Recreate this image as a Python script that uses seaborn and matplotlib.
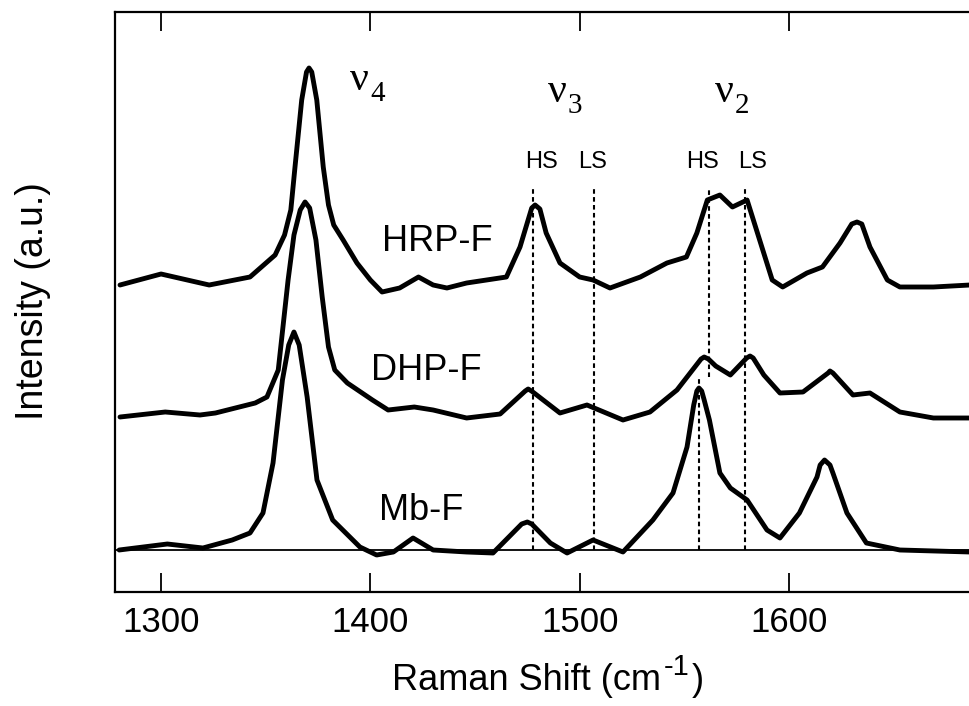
import matplotlib
matplotlib.use("Agg")
import matplotlib.pyplot as plt
import numpy as np
import pandas as pd
import seaborn as sns

# ---------------- data ----------------
hrp_x = [1280.4, 1300, 1323, 1342.5, 1354.5, 1359, 1362, 1364, 1367.2, 1369.5, 1370.7, 1372,
         1374.4, 1377.5, 1380, 1382.5, 1387, 1393.6, 1400, 1405.6, 1414, 1423, 1430, 1436.6,
         1446, 1465, 1471.5, 1477.1, 1478.7, 1481, 1484, 1490.6, 1500, 1506.4, 1514.5, 1529,
         1541.7, 1551, 1556, 1561, 1567, 1573, 1580, 1586, 1592, 1597, 1608.6, 1616, 1624.4,
         1630, 1632.5, 1634.8, 1638.7, 1647, 1653, 1669, 1686.5]
hrp_y = [265, 276, 265, 273, 295, 315, 340, 383, 450, 478, 482, 478,
         450, 383, 345, 325, 310, 287, 270, 258, 262, 273, 265, 262,
         267, 273, 303, 342, 345, 341, 317, 287, 273, 270, 262, 273,
         287, 293, 317, 350, 355, 343, 350, 310, 270, 263, 277, 283, 307,
         326, 328, 326, 303, 270, 263, 263, 265]

dhp_x = [1280.4, 1302, 1318.6, 1326, 1345, 1350.6, 1356, 1360.7, 1363.5, 1366.5, 1368.8, 1371,
         1374, 1377, 1380, 1383, 1389, 1401, 1408.5, 1421, 1430, 1446, 1462, 1474, 1475.4,
         1477, 1490.6, 1503.5, 1520.7, 1533.6, 1546.5, 1558, 1559.5, 1561.5, 1565, 1572,
         1579.8, 1581.4, 1582.9, 1588, 1595.7, 1606.7, 1618.7, 1619.6, 1621, 1630.6, 1638.7,
         1653, 1669, 1686.5]
dhp_y = [133, 138, 135, 137, 147, 153, 180, 270, 315, 340, 348, 342,
         310, 253, 203, 180, 167, 150, 140, 143, 140, 132, 136, 159, 161,
         159, 137, 145, 130, 138, 160, 191, 193, 191, 184, 175,
         192, 194, 192, 175, 157, 158, 177, 179, 177, 155, 157,
         138, 132, 132]

mb_x = [1280, 1303, 1320, 1334, 1342.5, 1348.7, 1353.5, 1358, 1361, 1363.5, 1366, 1369.8,
        1374.5, 1382, 1395, 1403, 1411, 1420.4, 1430, 1446, 1458.6, 1472.3, 1475, 1477.1,
        1486, 1494, 1506.4, 1520.7, 1535, 1544.6, 1551.3, 1554.5, 1556, 1557, 1558.3, 1559.5,
        1562, 1567, 1572, 1580, 1589.5, 1595.7, 1605, 1613.4, 1614.9, 1617, 1619.6, 1621,
        1627.7, 1637, 1653, 1686.5]
mb_y = [0, 6, 2, 10, 17, 37, 87, 170, 205, 218, 205, 153,
        70, 30, 3, -5, -2, 12, 0, -2, -3, 26, 28, 26,
        7, -3, 10, -2, 30, 57, 103, 145, 159, 162, 159, 150,
        130, 77, 62, 50, 20, 12, 37, 73, 85, 90, 85, 77,
        37, 7, 0, -2]

sample_names = ["HRP-F", "DHP-F", "Mb-F"]

# marker (dotted) lines: wavenumber, lower and upper intensity
marker_x = [1477.7, 1507.0, 1562.0, 1557.0, 1579.0]
marker_lo = [0, 0, 173, 0, 0]
marker_hi = [363, 363, 363, 173, 363]

band_subs = ["4", "3", "2"]
band_x = [1390.3, 1484.9, 1564.7]
band_y = [460, 448, 448]

spin_labels = ["HS", "LS", "HS", "LS"]
spin_x = [1482.0, 1506.0, 1558.5, 1582.4]

x_ticks = [1300, 1400, 1500, 1600]

# ---------------- plotting ----------------
sns.set_theme(style="white")
plt.rcParams["font.family"] = ["Liberation Sans", "DejaVu Sans"]
plt.rcParams["text.color"] = "black"
plt.rcParams["axes.labelcolor"] = "black"
plt.rcParams["xtick.color"] = "black"

W, H = 970, 706
fig = plt.figure(figsize=(W / 100, H / 100), dpi=100)
ax = fig.add_axes([115 / W, 1 - 592 / H, 1 - 115 / W, (592 - 12) / H])

frames = []
for name, xs, ys in zip(sample_names, [hrp_x, dhp_x, mb_x], [hrp_y, dhp_y, mb_y]):
    frames.append(pd.DataFrame({"shift": xs, "intensity": ys, "sample": name}))
df = pd.concat(frames, ignore_index=True)

sns.lineplot(data=df, x="shift", y="intensity", units="sample", estimator=None,
             color="black", linewidth=3.5, sort=False, legend=False, ax=ax)

ax.axhline(0, color="black", linewidth=1.3, zorder=1)
ax.vlines(marker_x, marker_lo, marker_hi, colors="black", linewidth=1.5,
          linestyles=(0, (2.2, 1.6)), zorder=1)

ax.set_xlim(1278.0, 1686.5)
ax.set_ylim(-42, 538)

ax.set_xticks(x_ticks)
ax.set_xticklabels([str(t) for t in x_ticks])
ax.set_yticks([])
ax.tick_params(axis="x", direction="in", length=14, width=1.3, top=True, bottom=True,
               labelsize=25, pad=10, colors="black")

for s in ["left", "bottom", "top"]:
    ax.spines[s].set_visible(True)
    ax.spines[s].set_color("black")
    ax.spines[s].set_linewidth(1.6)
ax.spines["right"].set_visible(False)

ax.set_xlabel("")
ax.set_ylabel("")

renderer = fig.canvas.get_renderer()

# x-axis label built in pieces (superscript nearly full size, as in the reference)
base_y = 1 - 690 / H
t1 = fig.text(0, base_y, "Raman Shift (cm", fontsize=26, ha="left", va="baseline")
t2 = fig.text(0, 1 - 675 / H, "-1", fontsize=21, ha="left", va="baseline")
t3 = fig.text(0, base_y, ")", fontsize=26, ha="left", va="baseline")
w1 = t1.get_window_extent(renderer).width
w2 = t2.get_window_extent(renderer).width
w3 = t3.get_window_extent(renderer).width
total = w1 + 3 + w2 + 2 + w3
x0 = 547.5 - total / 2
t1.set_x(x0 / W)
t2.set_x((x0 + w1 + 3) / W)
t3.set_x((x0 + w1 + 3 + w2 + 2) / W)

fig.text(33 / W, 1 - 301 / H, "Intensity (a.u.)", fontsize=27, rotation=90,
         ha="center", va="center")

# sample labels
ax.text(1432.1, 299, "HRP-F", fontsize=26, ha="center", va="baseline")
ax.text(1426.6, 170, "DHP-F", fontsize=26, ha="center", va="baseline")
ax.text(1424.5, 30, "Mb-F", fontsize=26, ha="center", va="baseline")

# band labels: upright serif nu with subscript
for sub, bx, by in zip(band_subs, band_x, band_y):
    tn = ax.text(bx, by, "ν", fontsize=30, ha="left", va="baseline",
                 family=["Liberation Serif", "DejaVu Serif"])
    bb = tn.get_window_extent(renderer)
    px, py = ax.transData.transform((bx, by))
    sx, sy = ax.transData.inverted().transform((bb.x1 + 1, py - 11))
    ax.text(sx, sy, sub, fontsize=21, ha="left", va="baseline",
            family=["Liberation Serif", "DejaVu Serif"])

for lab, sx in zip(spin_labels, spin_x):
    ax.text(sx, 382, lab, fontsize=17, ha="center", va="baseline")

fig.savefig("out.png", dpi=100)
